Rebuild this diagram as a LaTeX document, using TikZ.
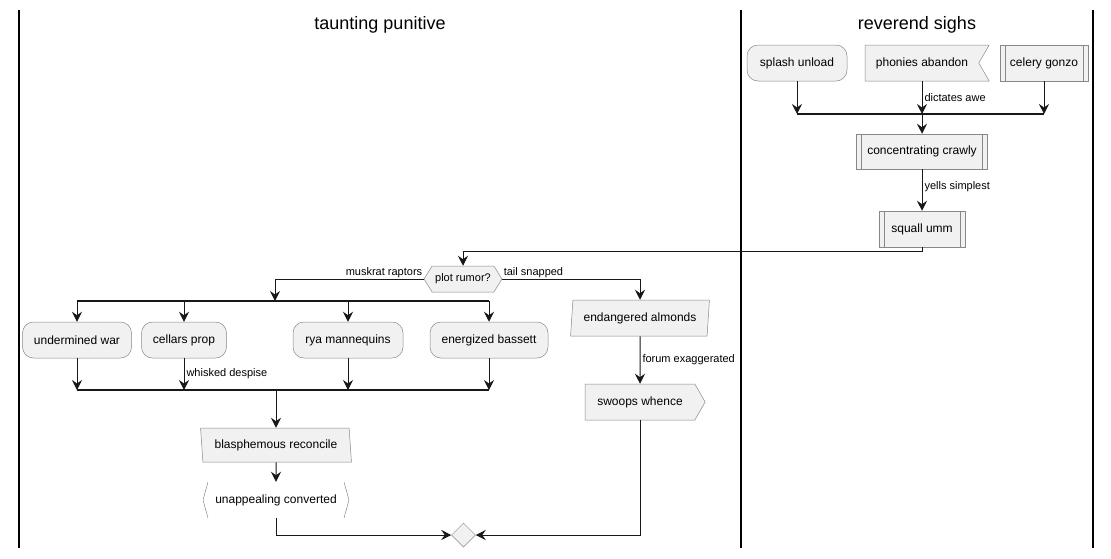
\documentclass[tikz,border=0pt]{standalone}
\usepackage{fontspec}
\setmainfont{Liberation Sans}
\usetikzlibrary{shapes.geometric, shapes.symbols, arrows.meta, positioning, calc}

\definecolor{boxfill}{HTML}{F1F1F1}
\definecolor{boxline}{HTML}{888888}
\definecolor{wire}{HTML}{181818}

\begin{document}
\begin{tikzpicture}[x=1pt, y=-1pt,
	box/.style={draw=boxline, fill=boxfill, line width=0.5pt, inner sep=0pt,
		minimum height=36pt, font=\fontsize{12}{14}\selectfont},
	act/.style={box, rounded corners=11pt},
	sub/.style={box, path picture={
		\draw[boxline, line width=0.5pt] ([xshift=5pt]path picture bounding box.north west) -- ([xshift=5pt]path picture bounding box.south west);
		\draw[boxline, line width=0.5pt] ([xshift=-5pt]path picture bounding box.north east) -- ([xshift=-5pt]path picture bounding box.south east);}},
	flagin/.style={box, shape=signal, signal to=nowhere, signal from=east, signal pointer angle=120},
	flagout/.style={box, shape=signal, signal to=east, signal pointer angle=120},
	choice/.style={box, shape=signal, signal to=west and east, signal pointer angle=116,
		minimum height=26pt, font=\fontsize{11}{13}\selectfont},
	inright/.style={box, trapezium, trapezium left angle=80, trapezium right angle=100, trapezium stretches=true},
	inleft/.style={box, trapezium, trapezium left angle=100, trapezium right angle=80, trapezium stretches=true},
	brk/.style={box, draw=none, fill=white, path picture={
		\draw[boxline, line width=0.5pt] ([xshift=5pt]path picture bounding box.north west) -- (path picture bounding box.west) -- ([xshift=5pt]path picture bounding box.south west);
		\draw[boxline, line width=0.5pt] ([xshift=-5pt]path picture bounding box.north east) -- (path picture bounding box.east) -- ([xshift=-5pt]path picture bounding box.south east);}},
	merge/.style={draw=boxline, fill=boxfill, line width=0.5pt, diamond, inner sep=0pt,
		minimum width=24pt, minimum height=24pt},
	flow/.style={draw=wire, line width=1pt, -{Stealth[length=10pt, width=10pt, inset=3.5pt]}},
	bar/.style={draw=wire, line width=1.8pt},
	tag/.style={font=\fontsize{11}{13}\selectfont, anchor=west, inner sep=2pt},
	lane/.style={font=\fontsize{18}{20}\selectfont}]
	\useasboundingbox (0,0) rectangle (1111,558);

	% Swimlanes
	\draw[line width=1.5pt] (19,10) -- (19,548);
	\draw[line width=1.5pt] (741,10) -- (741,548);
	\draw[line width=1.5pt] (1093,10) -- (1093,548);
	\node[lane] (laneL) at (380,25) {taunting punitive};
	\node[lane] (laneR) at (917,25) {reverend sighs};

	% reverend sighs
	\node[act, minimum width=100pt] (splash) at (797,63) {splash unload};
	\node[flagin, minimum width=124pt] (phonies) at (922,63) {phonies abandon};
	\node[sub, minimum width=88pt] (celery) at (1044,63) {celery gonzo};
	\coordinate (joinL) at (797,114);
	\coordinate (joinR) at (1044,114);
	\coordinate (joinM) at (922,114);
	\node[sub, minimum width=131pt, minimum height=35pt] (crawly) at (922,151.5) {concentrating crawly};
	\node[sub, minimum width=86pt] (squall) at (922,229) {squall umm};

	\draw[bar] (joinL) -- (joinR);
	\draw[flow] (splash) -- (splash |- joinL);
	\draw[flow] (joinM |- phonies.south) -- (joinM) node[tag, midway] {dictates awe};
	\draw[flow] (celery) -- (celery |- joinR);
	\draw[flow] (joinM) -- (crawly);
	\draw[flow] (crawly) -- (squall) node[tag, pos=0.43] {yells simplest};

	% taunting punitive
	\node[choice, minimum width=78pt] (rumor) at (463,279) {plot rumor?};
	\draw[flow] (squall.south) -- ++(0,4) -| (rumor.north);

	\coordinate (forkL) at (77,301);
	\coordinate (forkR) at (489,301);
	\coordinate (forkM) at (275,301);
	\node[act, minimum width=109pt] (war) at (77,340) {undermined war};
	\node[act, minimum width=85pt] (cellars) at (184,340) {cellars prop};
	\node[act, minimum width=110pt] (rya) at (348,340) {rya mannequins};
	\node[act, minimum width=118pt] (bassett) at (489,340) {energized bassett};
	\coordinate (mergeL) at (77,390);
	\coordinate (mergeR) at (489,390);
	\coordinate (mergeM) at (276,390);

	\draw[flow] (rumor.west) node[tag, anchor=south east, inner sep=1pt] {muskrat raptors} -| (forkM);
	\draw[bar] (forkL) -- (forkR);
	\draw[flow] (war |- forkL) -- (war);
	\draw[flow] (cellars |- forkL) -- (cellars);
	\draw[flow] (rya |- forkL) -- (rya);
	\draw[flow] (bassett |- forkL) -- (bassett);
	\draw[flow] (war) -- (war |- mergeL);
	\draw[flow] (cellars) -- (cellars |- mergeL) node[tag, midway] {whisked despise};
	\draw[flow] (rya) -- (rya |- mergeL);
	\draw[flow] (bassett) -- (bassett |- mergeL);
	\draw[bar] (mergeL) -- (mergeR);

	\node[inleft, minimum width=151pt, minimum height=34pt] (blasph) at (276,445) {blasphemous reconcile};
	\node[brk, minimum width=146pt] (unapp) at (276,500) {unappealing converted};
	\node[merge] (join) at (463.5,535) {};
	\draw[flow] (mergeM) -- (blasph);
	\draw[flow] (blasph) -- (unapp);
	\draw[flow] (unapp) |- (join);

	% tail snapped branch
	\node[inright, minimum width=139pt] (almonds) at (640,318) {endangered almonds};
	\node[flagout, minimum width=120pt] (swoops) at (640,402) {swoops whence};
	\draw[flow] (rumor.east) node[tag, anchor=south west, inner sep=1pt] {tail snapped} -| (almonds);
	\draw[flow] (almonds) -- (swoops) node[tag, midway] {forum exaggerated};
	\draw[flow] (swoops) |- (join);
\end{tikzpicture}
\end{document}
